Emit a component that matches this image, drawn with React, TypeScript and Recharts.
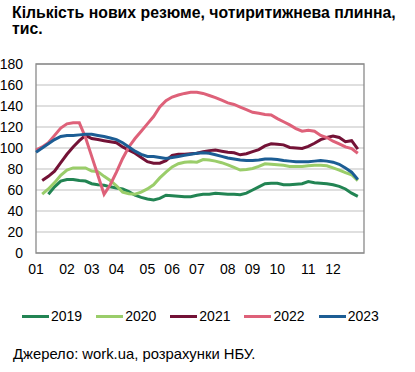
import React from "react";
import {
  LineChart,
  Line,
  XAxis,
  YAxis,
  CartesianGrid,
  ReferenceArea,
} from "recharts";

const FONT = '"Liberation Sans", Arial, sans-serif';

// week slots on the category axis (one spare slot at the end, like the source)
const weeks = Array.from({ length: 54 }, (_, i) => i + 1);
const monthTickWeeks = [1, 6, 10, 14, 19, 23, 27, 32, 36, 40, 45, 49];
const monthLabels = ["01", "02", "03", "04", "05", "06", "07", "08", "09", "10", "11", "12"];
const yTicks = [0, 20, 40, 60, 80, 100, 120, 140, 160, 180];

const years = ["2019", "2020", "2021", "2022", "2023"];
const colors = ["#228453", "#9acd6a", "#731236", "#de6179", "#1c5d94"];

const s2019 = [null, null, 56, 63, 68.5, 70, 70, 69, 68.5, 66, 65, 64.5, 63, 62, 61, 58.5, 55, 53, 51.5, 50.5, 52, 55, 54.5, 54, 53.5, 53.5, 55, 56, 56, 57, 56.5, 56, 56, 55.5, 57, 60, 63, 66, 66.5, 66.5, 65, 65, 65.5, 66, 68, 67, 66.5, 66, 65, 63.5, 61, 57, 54];
const s2020 = [null, 56, 61, 67, 74, 79, 81, 81, 81, 78, 77.5, 73, 69, 64, 58, 56.5, 56, 58, 61, 65, 71.5, 77, 82, 85, 86.5, 87, 86.5, 89, 88.5, 87.5, 86, 84, 81.5, 79, 79.5, 80.5, 82.5, 85, 84.5, 84, 83.5, 82.5, 82.5, 82.5, 83, 83.5, 83.5, 83, 81, 79, 76.5, 74.5, 69];
const s2021 = [null, 69, 73, 78, 86, 94, 101, 107, 112, 109, 108, 107, 106, 105, 101, 98, 95, 91, 87, 85.5, 85.5, 88, 93, 94, 94, 94.5, 95, 96.5, 97.5, 98, 97, 96, 95.5, 93.5, 94.5, 96.5, 98.5, 102, 104, 103.5, 103, 100.5, 100, 99.5, 101.5, 104.5, 108, 110, 111.5, 110, 106, 107, 99];
const s2022 = [98, 101, 105, 112, 119, 123, 124, 124, 110, 92, 74, 56, 65, 77, 90, 101, 109, 116, 123, 130, 139, 145, 148.5, 150.5, 152, 153, 153, 152, 150, 148, 145.5, 143, 141.5, 139, 136.5, 134, 133, 132, 131.5, 128, 125, 122, 118.5, 116, 117, 116, 112, 110, 106.5, 104, 101, 99.5, 95];
const s2023 = [96, 100, 104, 108, 111, 112, 112, 112.5, 113, 113, 112, 111, 109.5, 108, 105, 101, 97, 94, 92, 92, 91, 90, 91, 92, 93, 94, 95, 95.5, 95, 93.5, 92, 90.5, 89.5, 88.5, 88, 88, 88.5, 89.5, 89.5, 89, 88, 87.5, 87, 87, 87, 87.5, 88, 87.5, 86.5, 84.5, 81, 77, 70];

const seriesValues = [s2019, s2020, s2021, s2022, s2023];

const data = weeks.map((w, i) => {
  const row: any = { week: w };
  years.forEach((y, k) => {
    const v = seriesValues[k][i];
    row[y] = v === undefined ? null : v;
  });
  return row;
});

function monthFor(w: number) {
  const idx = monthTickWeeks.indexOf(w);
  return idx >= 0 ? monthLabels[idx] : "";
}

function LegendRow() {
  return (
    <div style={{ display: "flex", fontFamily: FONT, fontSize: 14, lineHeight: "16px", color: "#000" }}>
      {years.map((y, k) => (
        <div key={y} style={{ display: "flex", alignItems: "center", marginRight: 14 }}>
          <span style={{ display: "inline-block", width: 27, height: 3, background: colors[k], marginRight: 2 }} />
          <span>{y}</span>
        </div>
      ))}
    </div>
  );
}

export default function App() {
  return (
    <div style={{ position: "absolute", left: 0, top: 0, width: 415, height: 372, background: "#fff", fontFamily: FONT }}>
      <div style={{ position: "absolute", left: 12, top: 5, fontSize: 15.8, fontWeight: "bold", lineHeight: "16px", whiteSpace: "nowrap" }}>
        Кількість нових резюме, чотиритижнева плинна,
      </div>
      <div style={{ position: "absolute", left: 12, top: 21, fontSize: 15.8, fontWeight: "bold", lineHeight: "16px" }}>
        тис.
      </div>
      <div style={{ position: "absolute", left: 0, top: 0 }}>
        <LineChart
          width={415}
          height={372}
          data={data}
          margin={{ top: 64, right: 51, bottom: 0, left: 0 }}
        >
          <CartesianGrid vertical={false} stroke="#d4d4d4" strokeWidth={1.3} />
          <XAxis
            dataKey="week"
            type="category"
            ticks={monthTickWeeks}
            interval={0}
            tickFormatter={monthFor}
            axisLine={false}
            tickLine={false}
            tickSize={0}
            tickMargin={11}
            height={119}
            tick={{ fill: "#000", fontSize: 14, fontFamily: FONT }}
          />
          <YAxis
            domain={[0, 180]}
            ticks={yTicks}
            interval={0}
            width={36}
            axisLine={false}
            tickLine={false}
            tickSize={0}
            tickMargin={13}
            tick={{ fill: "#000", fontSize: 14, fontFamily: FONT }}
          />
          <ReferenceArea y1={0} y2={180} fill="none" stroke="#8a8a8a" strokeWidth={1.3} ifOverflow="visible" />
          {years.map((y, k) => (
            <Line
              key={y}
              dataKey={y}
              type="linear"
              stroke={colors[k]}
              strokeWidth={3}
              dot={false}
              activeDot={false}
              isAnimationActive={false}
            />
          ))}
        </LineChart>
      </div>
      <div style={{ position: "absolute", left: 22, top: 308 }}>
        <LegendRow />
      </div>
      <div style={{ position: "absolute", left: 13, top: 346, fontSize: 14.8, lineHeight: "16px", whiteSpace: "nowrap" }}>
        Джерело: work.ua, розрахунки НБУ.
      </div>
    </div>
  );
}
